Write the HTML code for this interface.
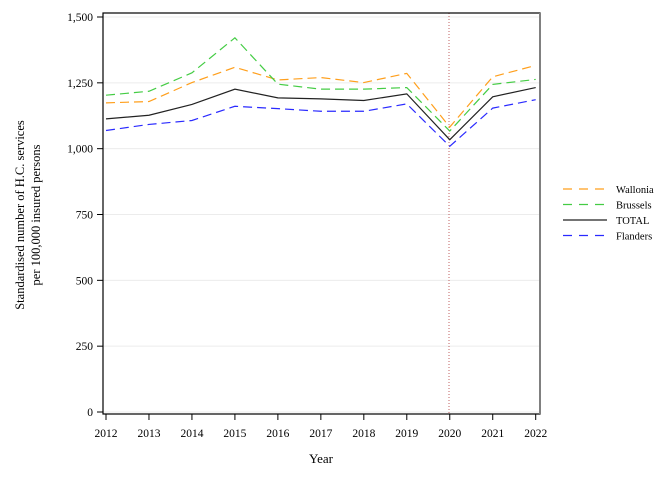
<!DOCTYPE html>
<html><head><meta charset="utf-8"><style>
body{margin:0;background:#fff;}
svg text{font-family:"Liberation Serif",serif;fill:#000;}
</style></head><body>
<svg id="chart" width="672" height="480" viewBox="0 0 672 480">
<rect x="0" y="0" width="672" height="480" fill="#fff"/>
<g id="grid"></g>
<line x1="449" x2="449" y1="13" y2="414" stroke="#c06060" stroke-width="1" stroke-dasharray="1,2"/>
<g id="series"></g>
<rect x="103" y="13" width="437" height="401" fill="none" stroke="#000" stroke-width="1.2"/>
<line x1="540" x2="540" y1="13" y2="414" stroke="#808080" stroke-width="2"/>
<g id="yaxis"></g>
<g id="xaxis"></g>
<text x="321" y="463" font-size="13" text-anchor="middle">Year</text>
<text transform="translate(24,215) rotate(-90)" font-size="12.5" text-anchor="middle"><tspan x="0" dy="0">Standardised number of H.C. services</tspan><tspan x="0" dy="16">per 100,000 insured persons</tspan></text>
<g id="legend"></g>
</svg>
<script>
const years=[2012,2013,2014,2015,2016,2017,2018,2019,2020,2021,2022];
const wallonia=[1174,1179,1251,1309,1261,1270,1251,1286,1082,1273,1316];
const brussels=[1203,1218,1288,1421,1245,1226,1226,1232,1067,1244,1263];
const total=[1113,1127,1168,1226,1193,1189,1183,1208,1034,1197,1232];
const flanders=[1069,1092,1107,1161,1152,1142,1142,1170,1009,1154,1186];
const yTicks=[0,250,500,750,1000,1250,1500];
const yTickLabels=["0","250","500","750","1,000","1,250","1,500"];
const NS="http://www.w3.org/2000/svg";
const xs=y=>106+(y-2012)*(535.7-106)/10;
const ys=v=>412-v*(412-17)/1500;
function mk(t,a,p){const e=document.createElementNS(NS,t);for(const k in a)e.setAttribute(k,a[k]);p.appendChild(e);return e;}
const grid=document.getElementById('grid'),ya=document.getElementById('yaxis'),xa=document.getElementById('xaxis');
yTicks.forEach((v,i)=>{
 const g=mk('line',{x1:103,x2:540,y1:ys(v),y2:ys(v),stroke:'#ececec','stroke-width':1},grid);
 
 
 const t=mk('line',{x1:97,x2:103,y1:ys(v),y2:ys(v),stroke:'#000'},ya);
 
 
 const l=mk('text',{x:93,y:ys(v)+4,'font-size':11.5,'text-anchor':'end'},ya);l.textContent=yTickLabels[i];
 
 
});
years.forEach(y=>{
 const t=mk('line',{x1:xs(y),x2:xs(y),y1:414,y2:420,stroke:'#000'},xa);
 
 
 const l=mk('text',{x:xs(y),y:437,'font-size':11.5,'text-anchor':'middle'},xa);l.textContent=y;
 
 
});
const defs=[["wallonia",wallonia,"#ff9f1c","9,5","Wallonia"],["brussels",brussels,"#44cc44","9,5","Brussels"],["total",total,"#222","","TOTAL"],["flanders",flanders,"#2a2aff","9,5","Flanders"]];
const sg=document.getElementById('series'),lg=document.getElementById('legend');
defs.forEach((d,i)=>{
 const pts=d[1].map((v,j)=>xs(years[j])+','+ys(v)).join(' ');
 const p=mk('polyline',{points:pts,fill:'none',stroke:d[2],'stroke-width':1.2,'stroke-dasharray':d[3]},sg);
 
 
 const ly=189+i*15.5;
 const ll=mk('line',{x1:563,x2:607,y1:ly,y2:ly,stroke:d[2],'stroke-width':1.2,'stroke-dasharray':d[3]?'9,7':''},lg);
 
 
 const lt=mk('text',{x:616,y:ly+4,'font-size':10.5},lg);lt.textContent=d[4];
 
 
});
</script>
</body></html>
